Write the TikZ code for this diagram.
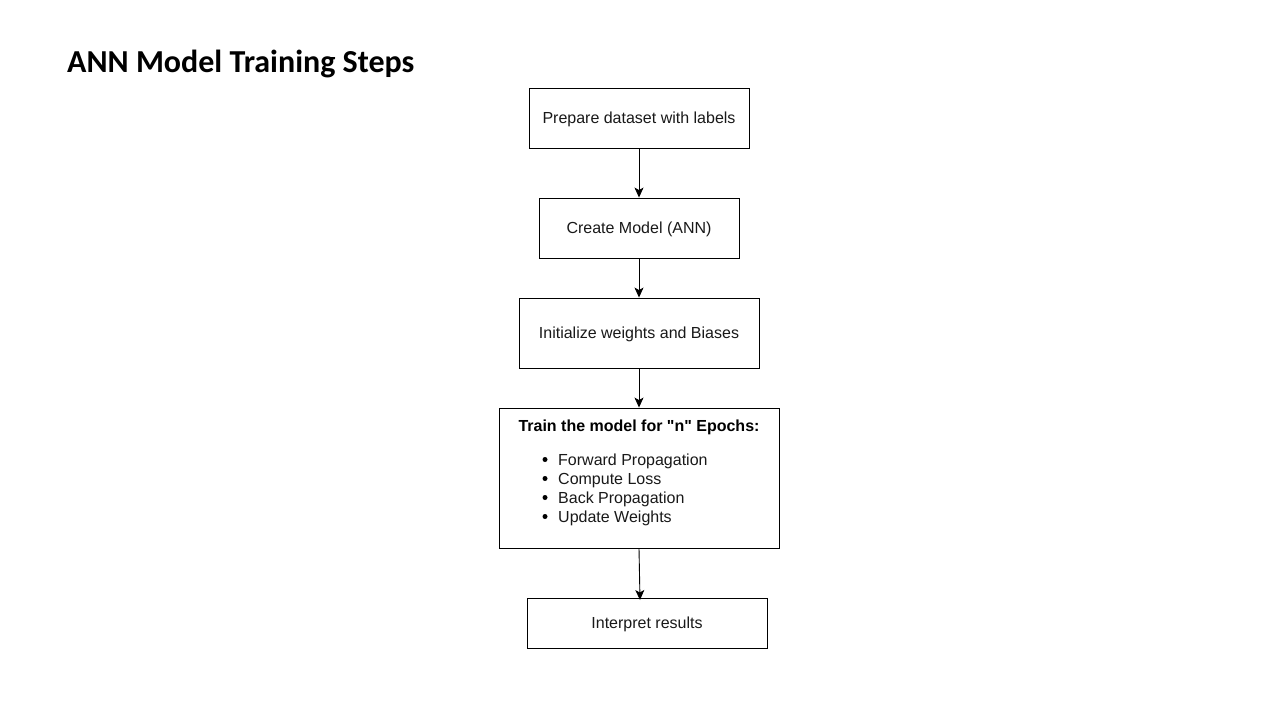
\documentclass[tikz,border=0pt]{standalone}
\usepackage{fontspec}
\setmainfont{Liberation Sans}
\newfontfamily\titlefont{Carlito}
\font\trainfont="Liberation Sans/B" at 16pt
\usetikzlibrary{arrows.meta}
\begin{document}
\begin{tikzpicture}[x=1pt,y=-1pt,
  box/.style={draw=black,line width=0.9pt,rectangle,inner sep=0pt,text height=11.6pt,text depth=0pt,font=\fontsize{16}{19}\selectfont,text=black!90},
  conn/.style={draw=black,line width=0.9pt,-{Stealth[length=10pt,width=9pt,inset=2.5pt]}},
  txt/.style={inner sep=0pt,font=\fontsize{16}{19}\selectfont,text=black!90}]
\useasboundingbox[fill=white] (0,0) rectangle (1280,720);
\node[anchor=base west,inner sep=0pt,font=\titlefont\bfseries\fontsize{32}{38}\selectfont] (title) at (67,72) {ANN Model Training Steps};
\node[box,minimum width=220pt,minimum height=60pt] (b1) at (639,118) {Prepare dataset with labels};
\node[box,minimum width=200pt,minimum height=60pt] (b2) at (639,228) {Create Model (ANN)};
\node[box,minimum width=240pt,minimum height=70pt] (b3) at (639,333) {Initialize weights and Biases};
\node[box,minimum width=280pt,minimum height=140pt] (b4) at (639,478) {};
\node[box,minimum width=240pt,minimum height=50pt] (b5) at (647,623) {Interpret results};
\node[inner sep=0pt,text=black,anchor=base] (t0) at (639,431) {\trainfont Train the model for "n" Epochs:};
\node[txt,anchor=base west] (l1) at (558,465) {Forward Propagation};
\node[txt,anchor=base west] (l2) at (558,484) {Compute Loss};
\node[txt,anchor=base west] (l3) at (558,503) {Back Propagation};
\node[txt,anchor=base west] (l4) at (558,522) {Update Weights};
\foreach \l in {l1,l2,l3,l4}{\fill[black] ([xshift=-13pt,yshift=5.5pt]\l.base west) circle (2.5pt);}
\draw[conn] (b1.south) -- (b2.north);
\draw[conn] (b2.south) -- (b3.north);
\draw[conn] (b3.south) -- (b4.north);
\coordinate (e5) at (640,600);
\draw[conn] (b4.south) -- (e5);
\end{tikzpicture}
\end{document}
